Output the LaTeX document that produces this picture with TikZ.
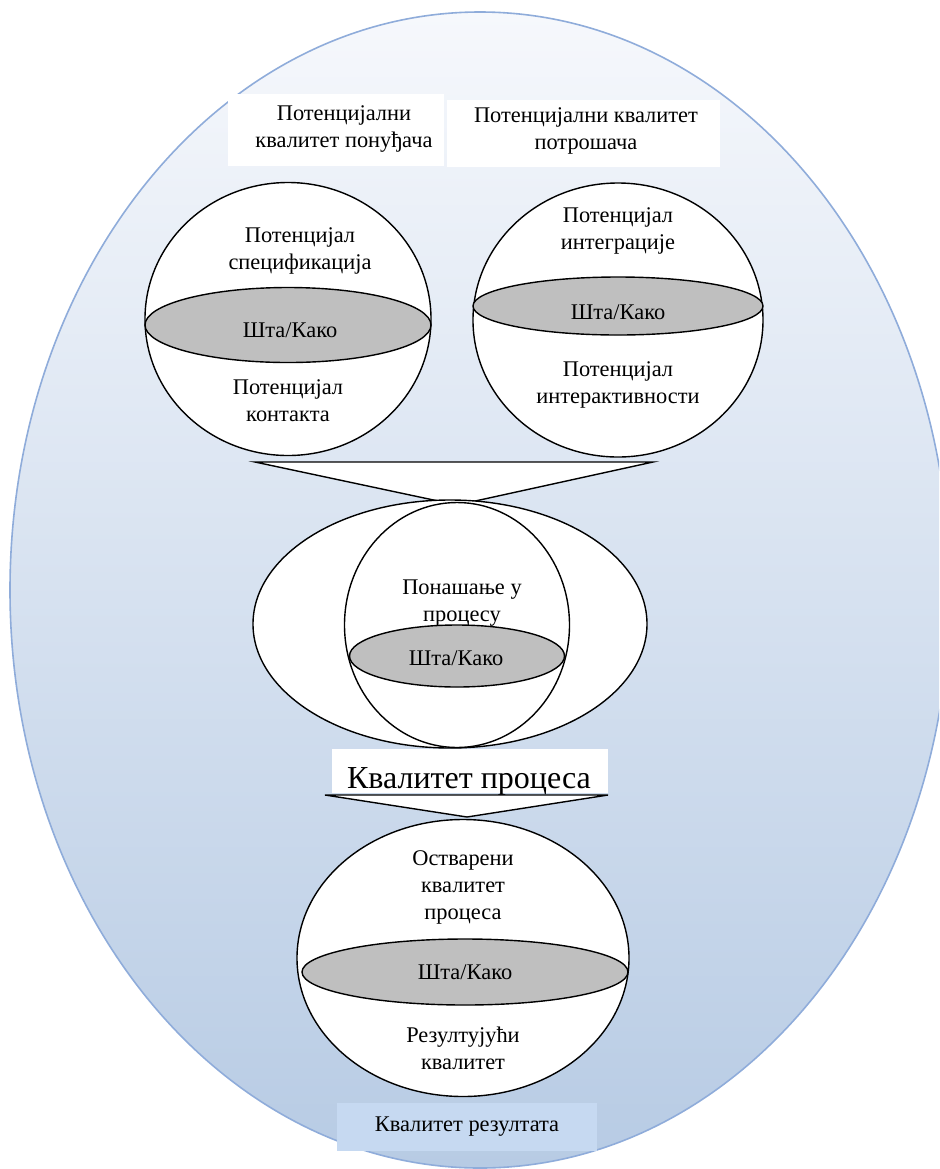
\documentclass[tikz,border=0pt]{standalone}
\usepackage{fontspec}
\setmainfont{Liberation Serif}
\usetikzlibrary{shapes.geometric}
\definecolor{eggtop}{RGB}{246,248,252}
\definecolor{eggbottom}{RGB}{183,203,228}
\definecolor{eggline}{RGB}{143,172,218}
\definecolor{cutgray}{RGB}{191,191,191}
\definecolor{labelblue}{RGB}{198,217,241}

\begin{document}
\begin{tikzpicture}[x=0.5pt,y=-0.5pt]
  \tikzstyle{SphereStyle}=[ellipse,draw,fill=white,line width=0.7pt,inner sep=0pt]
  \tikzstyle{CutStyle}=[ellipse,draw,fill=cutgray,line width=0.7pt,inner sep=0pt]
  \tikzstyle{LabelStyle}=[align=center,font=\fontsize{11.2}{13.5}\selectfont,inner sep=0pt]
  \tikzstyle{FunnelStyle}=[draw,fill=white,line width=0.7pt,line join=miter]
  \useasboundingbox (0,0) rectangle (939,1169);
  \clip (0,0) rectangle (939,1169);

  % the big egg
  \node[ellipse,draw=eggline,line width=0.8pt,top color=eggtop,bottom color=eggbottom,
        minimum width=470pt,minimum height=578pt,inner sep=0pt] (egg) at (480,590) {};

  % potentials on top
  \node[fill=white,minimum width=108pt,minimum height=36pt] (provbox) at (336,130) {};
  \node[LabelStyle] (provtext) at (344,129) {Потенцијални\\квалитет понуђача};
  \node[fill=white,minimum width=136.5pt,minimum height=33.5pt] (consbox) at (583,133) {};
  \node[LabelStyle] (constext) at (586,131) {Потенцијални квалитет\\потрошача};

  \node[SphereStyle,minimum width=143pt,minimum height=136.5pt] (prov) at (288,319) {};
  \node[CutStyle,minimum width=143pt,minimum height=37.5pt] (provcut) at (288,325) {};
  \node[LabelStyle] at (300,251) {Потенцијал\\спецификација};
  \node[LabelStyle] at (290,330) {Шта/Како};
  \node[LabelStyle] at (288,401) {Потенцијал\\контакта};

  \node[SphereStyle,minimum width=145pt,minimum height=137pt] (cons) at (618,320) {};
  \node[CutStyle,minimum width=145pt,minimum height=29pt] (conscut) at (618,306) {};
  \node[LabelStyle] at (618,231) {Потенцијал\\интеграције};
  \node[LabelStyle] at (618,312) {Шта/Како};
  \node[LabelStyle] at (618,385) {Потенцијал\\интерактивности};

  % first funnel
  \coordinate (fa) at (255,462);
  \coordinate (fb) at (653,462);
  \coordinate (fc) at (457,505);
  \path[FunnelStyle] (fa) -- (fb) -- (fc) -- cycle;

  % process
  \node[SphereStyle,minimum width=197pt,minimum height=124pt] (outerproc) at (450,624) {};
  \node[SphereStyle,minimum width=112.5pt,minimum height=122.5pt] (proc) at (457,625) {};
  \node[LabelStyle] at (462,603) {Понашање у\\процесу};
  \node[CutStyle,minimum width=107.5pt,minimum height=31pt] (proccut) at (457,656) {};
  \node[LabelStyle] at (456,658) {Шта/Како};

  \node[fill=white,minimum width=138pt,minimum height=22pt] (procbox) at (470,771) {};
  \node[font=\fontsize{16}{18}\selectfont,inner sep=0pt,anchor=base] (proctext) at (469,788) {Квалитет процеса};

  % second funnel
  \coordinate (ga) at (325,795);
  \coordinate (gb) at (608,795);
  \coordinate (gc) at (467,817);
  \path[FunnelStyle] (ga) -- (gb) -- (gc) -- cycle;

  % result
  \node[SphereStyle,minimum width=166pt,minimum height=138.5pt] (res) at (463,958) {};
  \node[CutStyle,minimum width=163pt,minimum height=33pt] (rescut) at (465,972) {};
  \node[LabelStyle] at (463,887) {Остварени\\квалитет\\процеса};
  \node[LabelStyle] at (465,972) {Шта/Како};
  \node[LabelStyle] at (463,1048) {Резултујући\\квалитет};

  \node[fill=labelblue,minimum width=130pt,minimum height=24pt,
        font=\fontsize{11.2}{13.5}\selectfont] (reslabel) at (467,1127) {Квалитет резултата};
\end{tikzpicture}
\end{document}
